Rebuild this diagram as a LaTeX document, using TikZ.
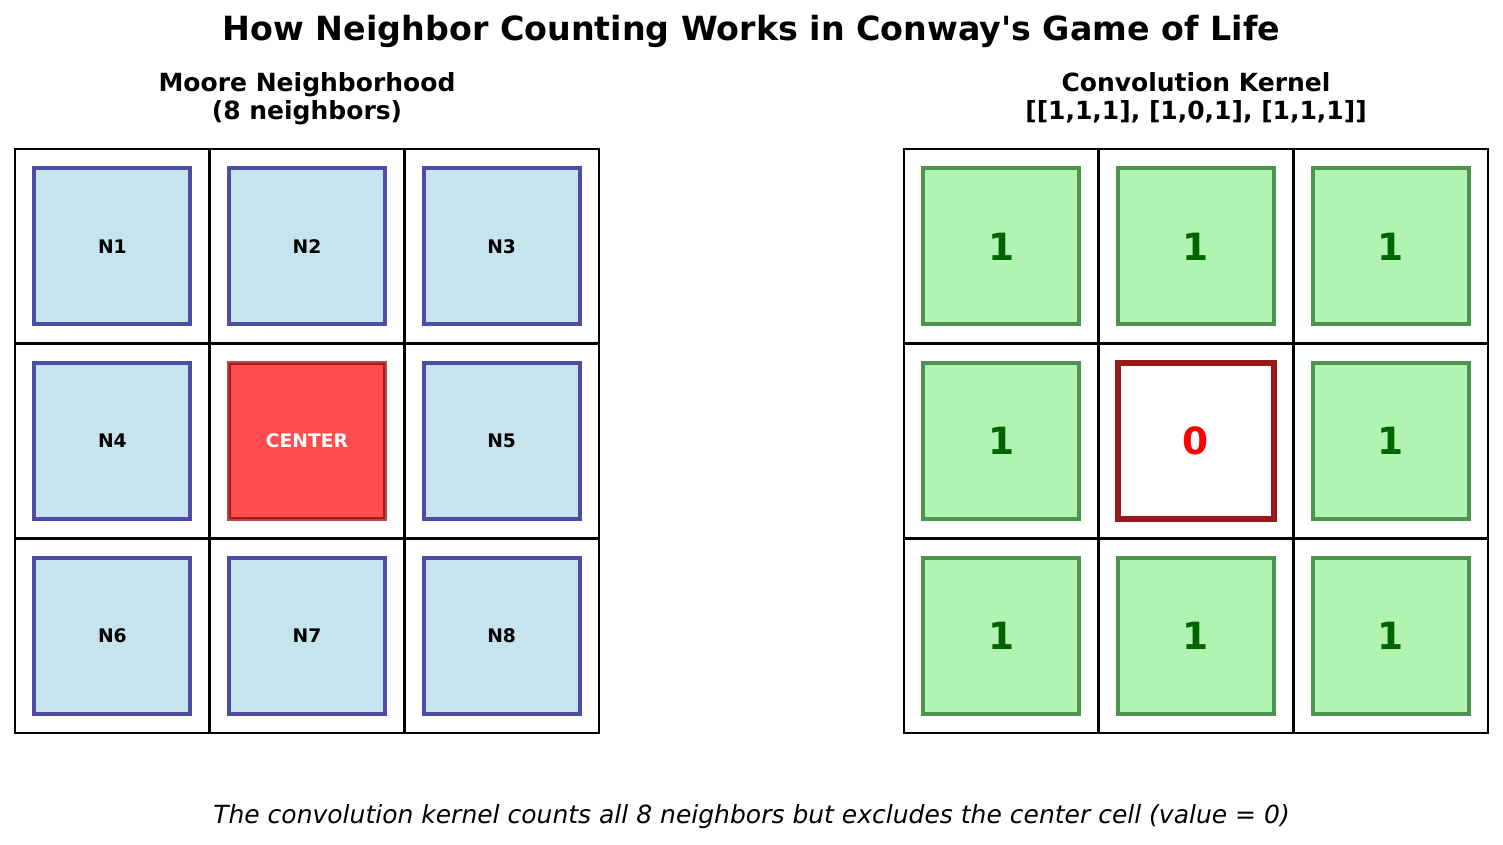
\documentclass[tikz,border=0pt]{standalone}
\usepackage{fontspec}
\setmainfont{DejaVu Sans}
\newfontfamily\djv{DejaVu Sans}
\definecolor{navyE}{RGB}{77,77,166}
\definecolor{lbFill}{RGB}{197,228,238}
\definecolor{lgFill}{RGB}{177,243,177}
\definecolor{dgE}{RGB}{77,147,77}
\definecolor{dgText}{RGB}{0,100,0}
\definecolor{redFill}{RGB}{255,77,77}
\definecolor{drk}{RGB}{139,0,0}
\definecolor{kcE}{RGB}{151,26,26}
\tikzset{
  cellbox/.style={draw=black, line width=2.8pt, minimum size=194.67pt, inner sep=0pt, outer sep=0pt},
  nbox/.style={draw=navyE, fill=lbFill, line width=3.8pt, minimum size=156pt, inner sep=0pt,
    font=\fontsize{18.7}{22}\selectfont\bfseries},
  cbox/.style={draw=drk, draw opacity=0.7, fill=redFill, line width=4.5pt, minimum size=156pt, inner sep=0pt,
    text=white, font=\fontsize{18.7}{22}\selectfont\bfseries},
  kbox/.style={draw=dgE, fill=lgFill, line width=3.8pt, minimum size=156pt, inner sep=0pt,
    text=dgText, font=\fontsize{37.5}{44}\selectfont\bfseries},
  kcbox/.style={draw=kcE, fill=white, line width=6pt, minimum size=156pt, inner sep=0pt,
    text=red, font=\fontsize{37.5}{44}\selectfont\bfseries},
  subtitle/.style={align=center, anchor=north, inner sep=0pt, font=\fontsize{25}{27}\selectfont\bfseries},
}
\begin{document}
\begin{tikzpicture}[x=1pt,y=-1pt]
\useasboundingbox (0,0) rectangle (1503,844);
% titles
\node[anchor=base, font=\djv\fontsize{33.3}{40}\selectfont\bfseries] (title) at (751.5,40) {How Neighbor Counting Works in Conway's Game of Life};
\node[subtitle] (stl) at (307,72.1) {\strut Moore Neighborhood\\\strut (8 neighbors)};
\node[subtitle] (str) at (1196,72.1) {\strut Convolution Kernel\\\strut {[}[1,1,1], [1,0,1], [1,1,1]]};
% grid cells
\foreach \i/\x in {1/112.33,2/307,3/501.67}{
  \foreach \j/\y in {1/246.33,2/441,3/635.67}{
    \node[cellbox] (L\i\j) at (\x,\y) {};
    \node[cellbox] (R\i\j) at (\x+889,\y) {};
  }
}
% left inner boxes
\node[nbox] (n1) at (L11) {N1};
\node[nbox] (n2) at (L21) {N2};
\node[nbox] (n3) at (L31) {N3};
\node[nbox] (n4) at (L12) {N4};
\node[cbox] (center) at (L22) {CENTER};
\node[nbox] (n5) at (L32) {N5};
\node[nbox] (n6) at (L13) {N6};
\node[nbox] (n7) at (L23) {N7};
\node[nbox] (n8) at (L33) {N8};
% kernel boxes
\node[kbox] (k11) at (R11) {1};
\node[kbox] (k21) at (R21) {1};
\node[kbox] (k31) at (R31) {1};
\node[kbox] (k12) at (R12) {1};
\node[kcbox] (k22) at (R22) {0};
\node[kbox] (k32) at (R32) {1};
\node[kbox] (k13) at (R13) {1};
\node[kbox] (k23) at (R23) {1};
\node[kbox] (k33) at (R33) {1};
% caption
\node[anchor=base, font=\fontsize{25}{30}\selectfont\itshape] (cap) at (751.5,823.3) {The convolution kernel counts all 8 neighbors but excludes the center cell (value = 0)};
\end{tikzpicture}
\end{document}
